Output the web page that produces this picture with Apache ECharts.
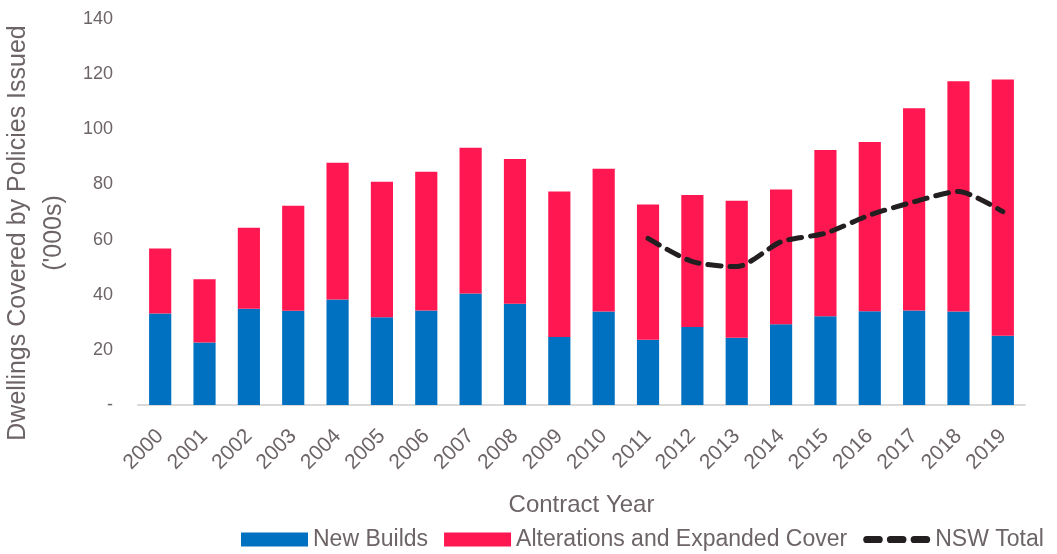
<!DOCTYPE html>
<html>
<head>
<meta charset="utf-8">
<script src="https://cdn.jsdelivr.net/npm/echarts@6/dist/echarts.min.js"></script>
<style>
  html, body { margin: 0; padding: 0; background: #fff; }
  #chart { width: 1057px; height: 554px; }
</style>
</head>
<body>
<div id="chart"></div>
<script>
  // values in thousands
  var years = ['2000', '2001', '2002', '2003', '2004', '2005', '2006', '2007', '2008', '2009',
               '2010', '2011', '2012', '2013', '2014', '2015', '2016', '2017', '2018', '2019'];
  var newBuilds = [33.2, 22.7, 34.9, 34.2, 38.3, 31.8, 34.3, 40.4, 36.7, 24.7,
                   33.9, 23.7, 28.3, 24.4, 29.3, 32.2, 34.0, 34.3, 33.9, 25.1];
  var alterations = [23.6, 22.9, 29.4, 38.1, 49.6, 49.2, 50.3, 52.9, 52.5, 52.7,
                     51.8, 49.0, 47.9, 49.7, 48.9, 60.3, 61.4, 73.3, 83.5, 93.0];
  var nswTotal = [null, null, null, null, null, null, null, null, null, null,
                  null, 60.4, 52.0, 50.2, 59.2, 62.3, 68.9, 73.7, 77.4, 70.1];
  var yTicks = [0, 20, 40, 60, 80, 100, 120, 140];

  var txt = '#6d6466';
  var font = "'Liberation Sans', Arial, sans-serif";
  // three rounded dashes for the legend of the dashed line
  var dashIcon = 'path://M3.5,0 h12 a3.5,3.5 0 0 1 0,7 h-12 a3.5,3.5 0 0 1 0,-7z' +
                 'M26.5,0 h12 a3.5,3.5 0 0 1 0,7 h-12 a3.5,3.5 0 0 1 0,-7z' +
                 'M49.5,0 h12 a3.5,3.5 0 0 1 0,7 h-12 a3.5,3.5 0 0 1 0,-7z';

  var chart = echarts.init(document.getElementById('chart'));
  var option = {
    animation: false,
    textStyle: { fontFamily: font },
    grid: { left: 138, right: 32, top: 19, bottom: 149, containLabel: false, outerBoundsMode: 'none' },
    legend: {
      left: 236,
      top: 523,
      itemWidth: 67,
      itemHeight: 14,
      itemGap: 16,
      textStyle: { color: txt, fontSize: 23, fontFamily: font },
      data: [
        { name: 'New Builds', icon: 'rect' },
        { name: 'Alterations and Expanded Cover', icon: 'rect' },
        { name: 'NSW Total', icon: dashIcon, itemStyle: { color: '#231f20' } }
      ]
    },
    xAxis: {
      type: 'category',
      data: years,
      name: 'Contract Year',
      nameLocation: 'middle',
      nameGap: 88,
      nameTextStyle: { color: txt, fontSize: 24, fontFamily: font },
      axisLine: { lineStyle: { color: '#d9d9d9', width: 2 } },
      axisTick: { show: false },
      axisLabel: { rotate: 45, color: txt, fontSize: 21, margin: 28, interval: 0 }
    },
    yAxis: {
      type: 'value',
      min: yTicks[0],
      max: yTicks[yTicks.length - 1],
      interval: 20,
      name: "Dwellings Covered by Policies Issued\n('000s)",
      nameLocation: 'middle',
      nameRotate: 90,
      nameGap: 56,
      nameTextStyle: {
        color: txt, fontSize: 25, lineHeight: 36, fontFamily: font,
        padding: [0, 42, 0, 0]
      },
      axisLine: { show: false },
      axisTick: { show: false },
      splitLine: { show: false },
      axisLabel: {
        color: txt, fontSize: 18, margin: 25,
        formatter: function (v) { return v === 0 ? '-' : v; }
      }
    },
    series: [
      {
        name: 'New Builds',
        type: 'bar',
        stack: 'total',
        barWidth: '50%',
        itemStyle: { color: '#0070c0' },
        data: newBuilds
      },
      {
        name: 'Alterations and Expanded Cover',
        type: 'bar',
        stack: 'total',
        barWidth: '50%',
        itemStyle: { color: '#ff1751' },
        data: alterations
      },
      {
        name: 'NSW Total',
        type: 'line',
        smooth: 0.25,
        symbol: 'none',
        connectNulls: false,
        itemStyle: { color: '#231f20' },
        lineStyle: { color: '#231f20', width: 5, type: [13, 9], cap: 'round' },
        data: nswTotal
      }
    ]
  };
  chart.setOption(option);
</script>
</body>
</html>
